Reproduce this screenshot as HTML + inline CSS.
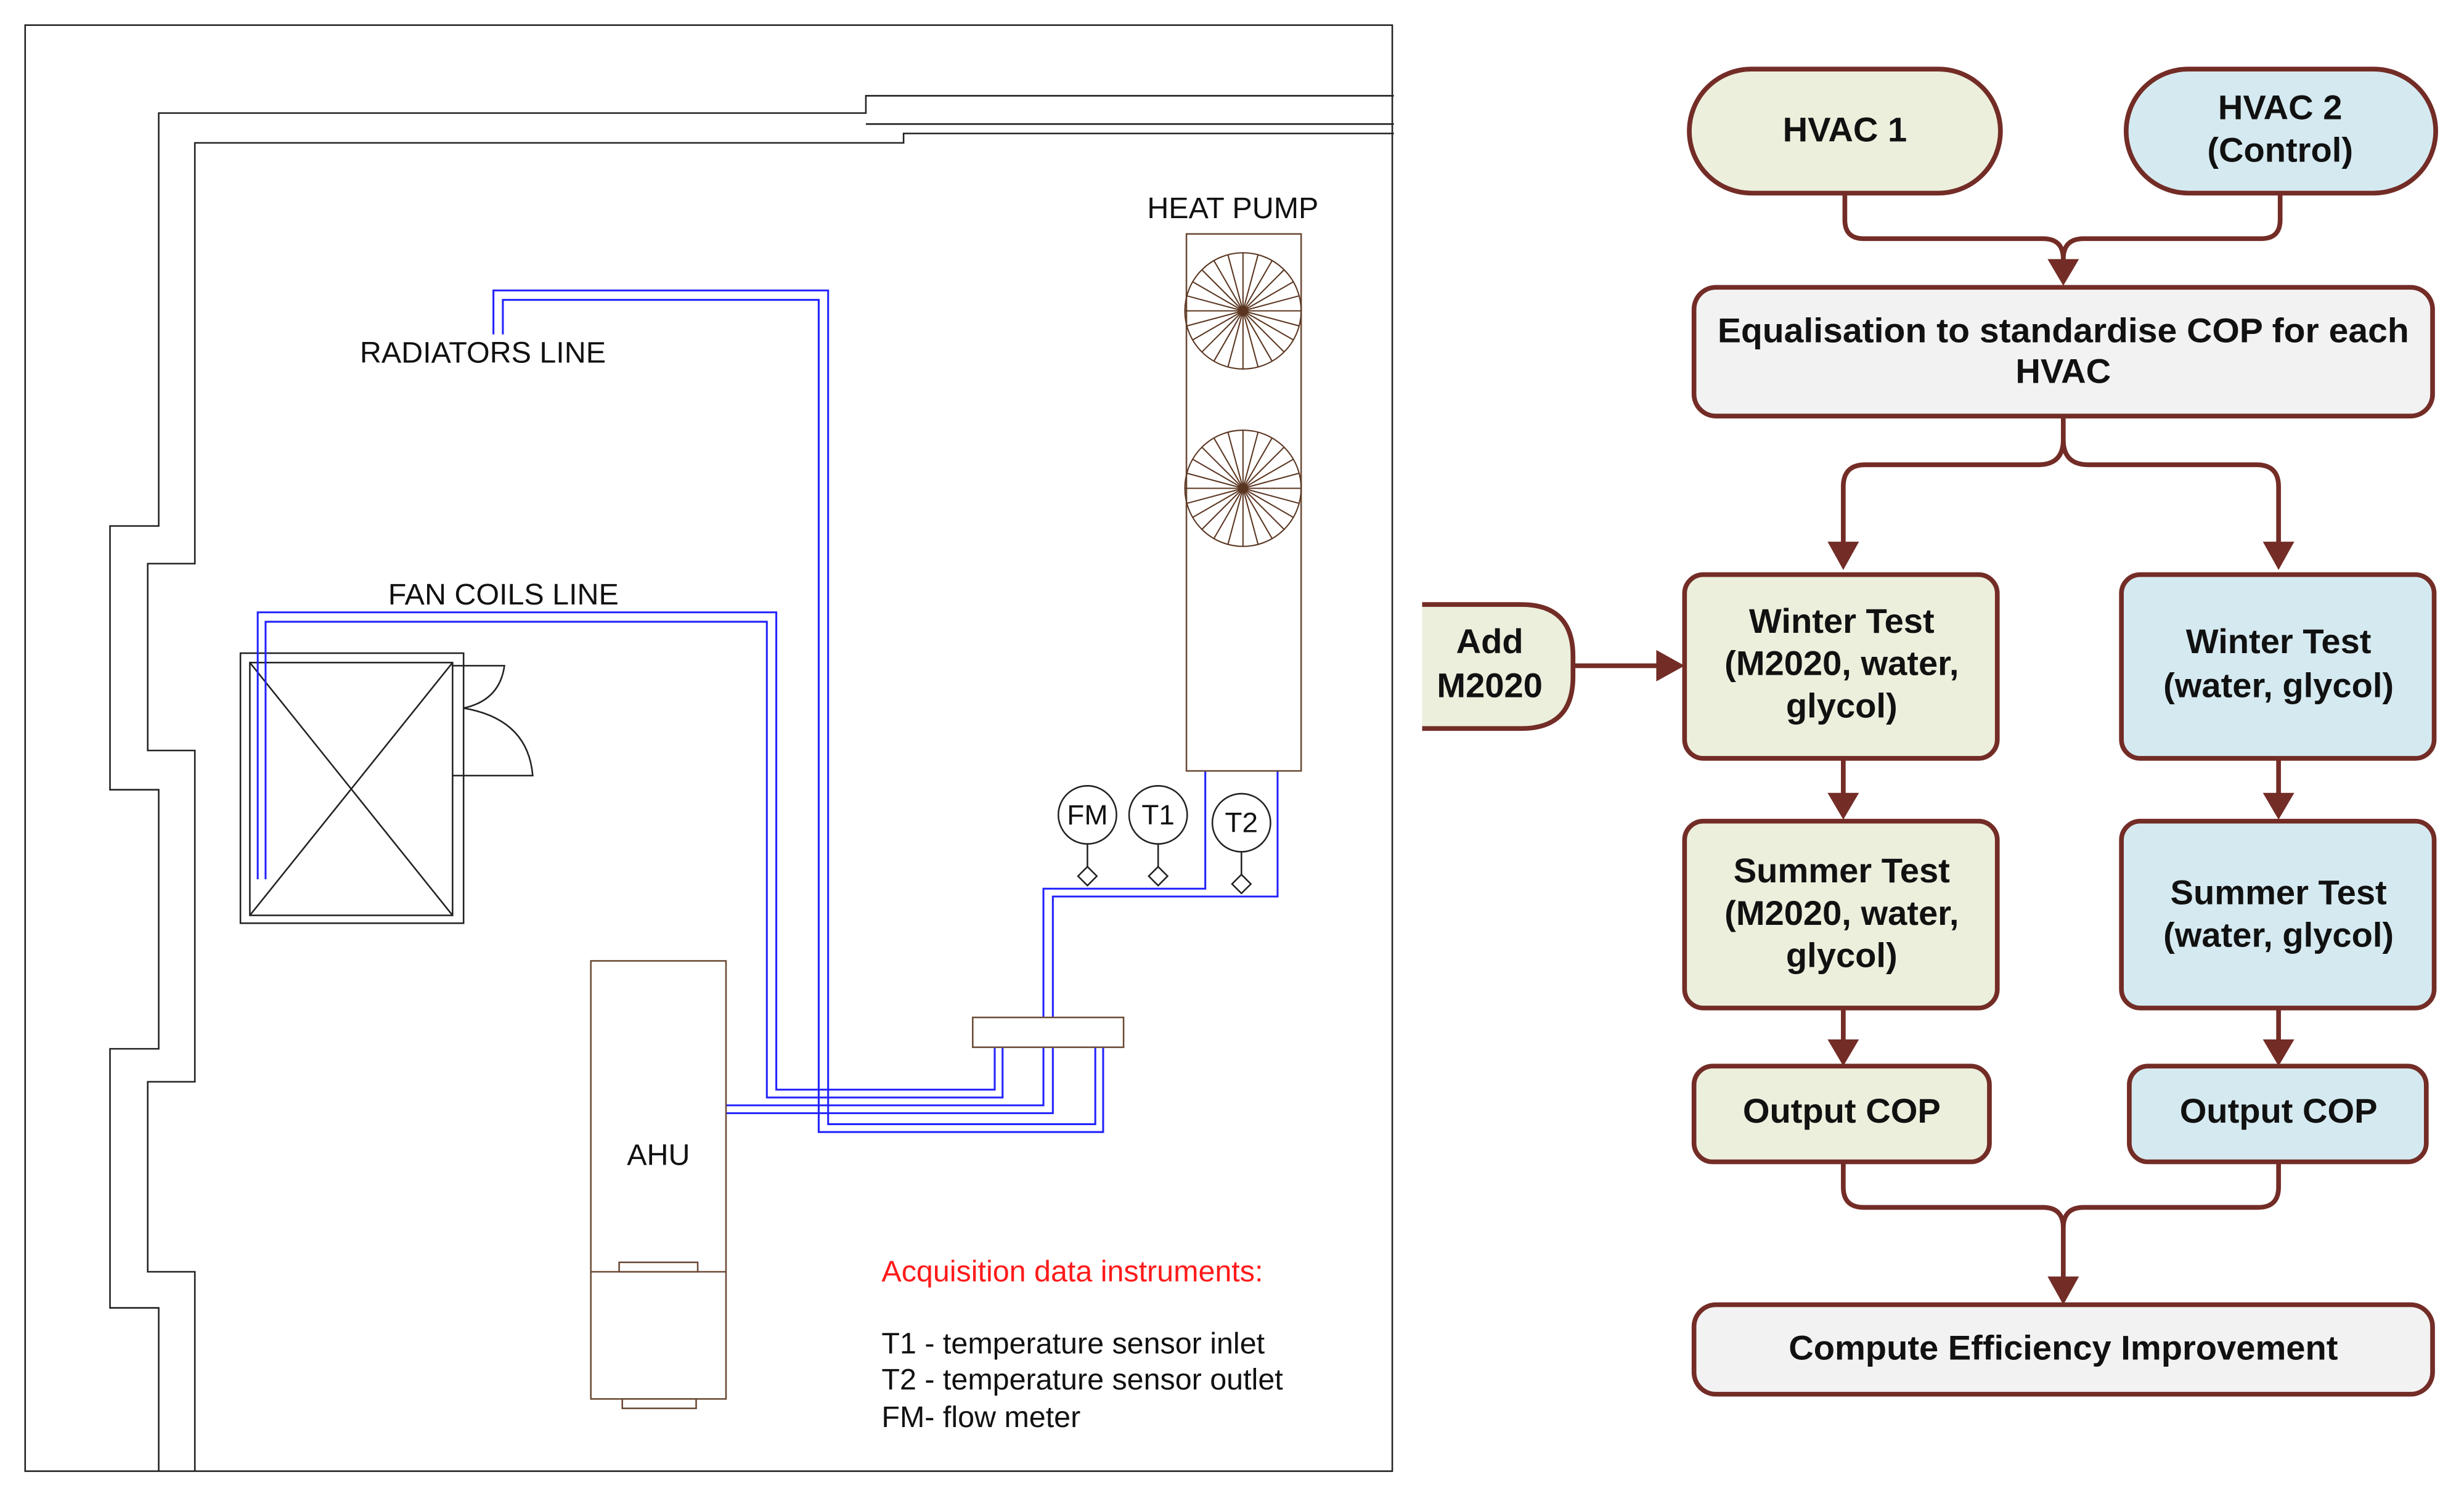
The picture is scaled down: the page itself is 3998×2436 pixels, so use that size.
<!DOCTYPE html>
<html><head><meta charset="utf-8"><style>html,body{margin:0;padding:0;background:#fff}svg{display:block}</style></head>
<body>
<svg width="3998" height="2436" viewBox="0 0 1568 956" preserveAspectRatio="none" xmlns="http://www.w3.org/2000/svg">
<rect width="1568" height="956" fill="#fff"/>
<g fill="none" stroke="#222" stroke-width="1">
<rect x="16" y="16" width="870" height="921"/>
<polyline points="887,61 551,61 551,72 101,72 101,335 70,335 70,503 101,503 101,668 70,668 70,833 101,833 101,937"/>
<line x1="551" y1="79" x2="887" y2="79"/>
<polyline points="887,85 575,85 575,91 124,91 124,359 94,359 94,478 124,478 124,689 94,689 94,810 124,810 124,937"/>
<rect x="153" y="416" width="142" height="172"/>
<rect x="159" y="422" width="129" height="161"/>
<line x1="159" y1="422" x2="288" y2="583"/><line x1="288" y1="422" x2="159" y2="583"/>
<path d="M288,424 L321,424 Q318,446 295,451 Q336,458 339,494 L288,494"/>
</g>
<g fill="none" stroke="#2323ff" stroke-width="1.2">
<polyline points="314,213 314,185 527,185 527,716 697,716 697,667"/>
<polyline points="320,213 320,191 521,191 521,721 702,721 702,667"/>
<polyline points="164,560 164,390 494,390 494,694 633,694 633,667"/>
<polyline points="169,560 169,396 488,396 488,699 638,699 638,667"/>
<polyline points="462,704 664,704 664,667"/>
<polyline points="462,709 670,709 670,667"/>
<polyline points="664,648 664,566 767,566 767,491"/>
<polyline points="670,648 670,571 813,571 813,491"/>
</g>
<g fill="#fff" stroke="#6b4a35" stroke-width="1">
<rect x="755" y="149" width="73" height="342"/>
<rect x="376" y="612" width="86" height="279"/>
<line x1="376" y1="810" x2="462" y2="810"/>
<rect x="394" y="804" width="50" height="6"/>
<rect x="396" y="891" width="47" height="6"/>
<rect x="619" y="648" width="96" height="19"/>
</g>
<g stroke="#5a3520" stroke-width="0.8" fill="none">
<circle cx="791" cy="198" r="37"/>
<circle cx="791" cy="311" r="37"/>
<path d="M791,198 L828,198 M791,198 L826.8,207.6 M791,198 L823,216.5 M791,198 L817.2,224.2 M791,198 L809.5,230 M791,198 L800.6,233.8 M791,198 L791,235 M791,198 L781.4,233.8 M791,198 L772.5,230 M791,198 L764.8,224.2 M791,198 L759,216.5 M791,198 L755.2,207.6 M791,198 L754,198 M791,198 L755.2,188.4 M791,198 L759,179.5 M791,198 L764.8,171.8 M791,198 L772.5,166 M791,198 L781.4,162.2 M791,198 L791,161 M791,198 L800.6,162.2 M791,198 L809.5,166 M791,198 L817.2,171.8 M791,198 L823,179.5 M791,198 L826.8,188.4"/>
<path d="M791,311 L828,311 M791,311 L826.8,320.6 M791,311 L823,329.5 M791,311 L817.2,337.2 M791,311 L809.5,343 M791,311 L800.6,346.8 M791,311 L791,348 M791,311 L781.4,346.8 M791,311 L772.5,343 M791,311 L764.8,337.2 M791,311 L759,329.5 M791,311 L755.2,320.6 M791,311 L754,311 M791,311 L755.2,301.4 M791,311 L759,292.5 M791,311 L764.8,284.8 M791,311 L772.5,279 M791,311 L781.4,275.2 M791,311 L791,274 M791,311 L800.6,275.2 M791,311 L809.5,279 M791,311 L817.2,284.8 M791,311 L823,292.5 M791,311 L826.8,301.4"/>
</g>
<g fill="#fff" stroke="#222" stroke-width="1">
<circle cx="692" cy="519" r="18.5"/><line x1="692" y1="537" x2="692" y2="552"/><path d="M692,552 L698,558 L692,564 L686,558 Z"/>
<circle cx="737" cy="519" r="18.5"/><line x1="737" y1="537" x2="737" y2="552"/><path d="M737,552 L743,558 L737,564 L731,558 Z"/>
<circle cx="790" cy="524" r="18.5"/><line x1="790" y1="542" x2="790" y2="557"/><path d="M790,557 L796,563 L790,569 L784,563 Z"/>
</g>
<g font-family="Liberation Sans, sans-serif" fill="#111" font-size="19">
<text x="692" y="525" text-anchor="middle" font-size="18">FM</text>
<text x="737" y="525" text-anchor="middle" font-size="18">T1</text>
<text x="790" y="530" text-anchor="middle" font-size="18">T2</text>
<text x="229" y="231">RADIATORS LINE</text>
<text x="247" y="385">FAN COILS LINE</text>
<text x="730" y="139">HEAT PUMP</text>
<text x="419" y="742" text-anchor="middle">AHU</text>
<text x="561" y="816" fill="#ff1a1a">Acquisition data instruments:</text>
<text x="561" y="862">T1 - temperature sensor inlet</text>
<text x="561" y="885">T2 - temperature sensor outlet</text>
<text x="561" y="909">FM- flow meter</text>
</g>
<g fill="none" stroke="#732c26" stroke-width="3">
<path d="M1174,123 V140 Q1174,152 1186,152 H1300 Q1313,152 1313,165 V170"/>
<path d="M1451,123 V140 Q1451,152 1439,152 H1326 Q1313,152 1313,165"/>
<path d="M1313,265 V280 Q1313,296 1297,296 H1187 Q1173,296 1173,310 V350"/>
<path d="M1313,280 Q1313,296 1329,296 H1436 Q1450,296 1450,310 V350"/>
<path d="M1173,483 V510"/><path d="M1450,483 V510"/>
<path d="M1173,642 V667"/><path d="M1450,642 V667"/>
<path d="M1173,740 V756 Q1173,769 1186,769 H1300 Q1313,769 1313,782 V818"/>
<path d="M1450,740 V756 Q1450,769 1437,769 H1326 Q1313,769 1313,782"/>
<path d="M1001,424 H1058"/>
</g>
<g fill="#732c26">
<path d="M1303,165 L1323,165 L1313,182 Z"/>
<path d="M1163,345 L1183,345 L1173,363 Z"/>
<path d="M1440,345 L1460,345 L1450,363 Z"/>
<path d="M1163,505 L1183,505 L1173,522 Z"/>
<path d="M1440,505 L1460,505 L1450,522 Z"/>
<path d="M1163,662 L1183,662 L1173,679 Z"/>
<path d="M1440,662 L1460,662 L1450,679 Z"/>
<path d="M1303,813 L1323,813 L1313,831 Z"/>
<path d="M1054,414 L1054,434 L1072,424 Z"/>
</g>
<g stroke="#732c26" stroke-width="3">
<rect x="1075" y="44" width="198" height="79" rx="39.5" fill="#ebefdc"/>
<rect x="1353" y="44" width="197" height="79" rx="39.5" fill="#d5eaf0"/>
<rect x="1078" y="183" width="470" height="82" rx="14" fill="#f2f2f2"/>
<rect x="1072" y="366" width="199" height="117" rx="12" fill="#ebefdc"/>
<rect x="1350" y="366" width="199" height="117" rx="12" fill="#d5eaf0"/>
<rect x="1072" y="523" width="199" height="119" rx="12" fill="#ebefdc"/>
<rect x="1350" y="523" width="199" height="119" rx="12" fill="#d5eaf0"/>
<rect x="1078" y="679" width="188" height="61" rx="12" fill="#ebefdc"/>
<rect x="1355" y="679" width="189" height="61" rx="12" fill="#d5eaf0"/>
<rect x="1078" y="831" width="470" height="57" rx="14" fill="#f2f2f2"/>
<path d="M905,385 H968 Q1001,385 1001,418 V431 Q1001,464 968,464 H905" fill="#ebefdc"/>
</g>
<g font-family="Liberation Sans, sans-serif" font-weight="bold" font-size="22" fill="#111" text-anchor="middle">
<text x="1174" y="90">HVAC 1</text>
<text x="1451" y="76">HVAC 2</text>
<text x="1451" y="103">(Control)</text>
<text x="1313" y="218" textLength="440" lengthAdjust="spacingAndGlyphs">Equalisation to standardise COP for each</text>
<text x="1313" y="244">HVAC</text>
<text x="948" y="416">Add</text>
<text x="948" y="444">M2020</text>
<text x="1172" y="403">Winter Test</text>
<text x="1172" y="430">(M2020, water,</text>
<text x="1172" y="457">glycol)</text>
<text x="1450" y="416">Winter Test</text>
<text x="1450" y="444">(water, glycol)</text>
<text x="1172" y="562">Summer Test</text>
<text x="1172" y="589">(M2020, water,</text>
<text x="1172" y="616">glycol)</text>
<text x="1450" y="576">Summer Test</text>
<text x="1450" y="603">(water, glycol)</text>
<text x="1172" y="715">Output COP</text>
<text x="1450" y="715">Output COP</text>
<text x="1313" y="866">Compute Efficiency Improvement</text>
</g>
</svg>
</body></html>
